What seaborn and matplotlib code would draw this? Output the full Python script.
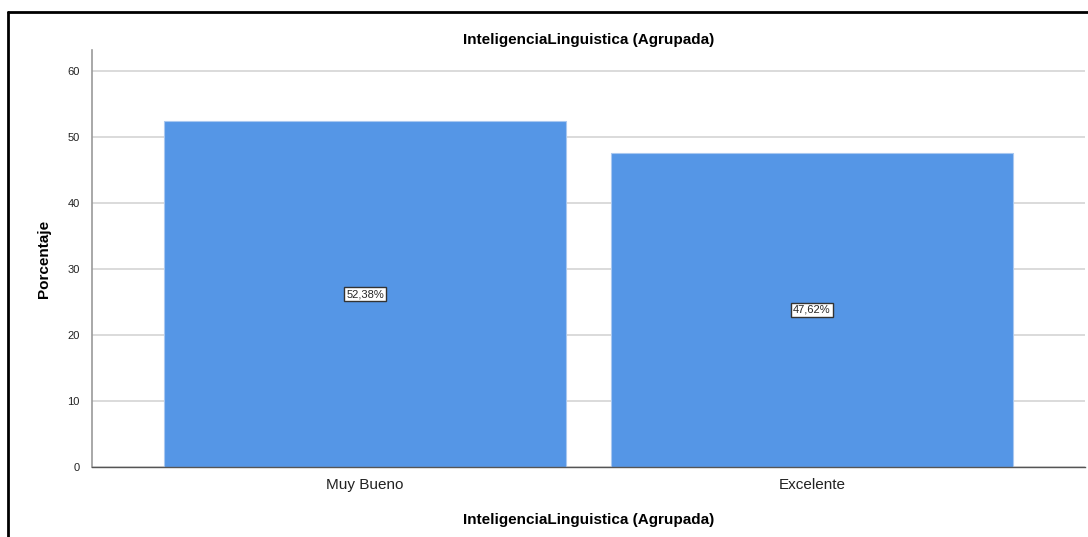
import pandas as pd
import matplotlib.pyplot as plt
import seaborn as sns
from matplotlib.lines import Line2D

# data
categorias = ["Muy Bueno", "Excelente"]
porcentaje = [52.38, 47.62]
etiquetas = ["52,38%", "47,62%"]

df = pd.DataFrame({"grupo": categorias, "pct": porcentaje})

sns.set_style("white")
plt.rcParams['font.family'] = ['Liberation Sans', 'DejaVu Sans']

fig = plt.figure(figsize=(10.88, 5.37), dpi=100)
ax = fig.add_axes([0.0846, 0.1304, 0.9124, 0.7765])

sns.barplot(x="grupo", y="pct", data=df, color="#5596e6", saturation=1,
            width=0.9, edgecolor="#a9c8f0", linewidth=0.8, ax=ax, zorder=2)

ax.set_ylim(0, 63.2)
ax.set_xlim(-0.611, 1.611)
ax.set_yticks([0, 10, 20, 30, 40, 50, 60])
ax.yaxis.grid(True, color="#d4d4d4", linewidth=1.2, zorder=0)
ax.set_axisbelow(True)
ax.tick_params(axis="y", labelsize=8, length=0, pad=9, labelcolor="#222222")
ax.tick_params(axis="x", labelsize=11, length=0, pad=8, labelcolor="#222222")

for s in ["top", "right"]:
    ax.spines[s].set_visible(False)
ax.spines["left"].set_color("#9a9a9a")
ax.spines["left"].set_linewidth(1.2)
ax.spines["bottom"].set_color("#555555")
ax.spines["bottom"].set_linewidth(1.0)

# value labels in the middle of each bar
for i, (v, t) in enumerate(zip(porcentaje, etiquetas)):
    ax.text(i, v / 2, t, ha="center", va="center", fontsize=8,
            bbox=dict(boxstyle="square,pad=0.2", facecolor="white",
                      edgecolor="#333333", linewidth=1))

ax.set_title("InteligenciaLinguistica (Agrupada)", fontsize=11,
             fontweight="bold", pad=4, color="black")
ax.set_xlabel("InteligenciaLinguistica (Agrupada)", fontsize=11,
              fontweight="bold", labelpad=15, color="black")
ax.set_ylabel("Porcentaje", fontsize=11, fontweight="bold", labelpad=12,
              color="black")

# outer frame (top and left edges visible in the screenshot)
fig.add_artist(Line2D([8 / 1088, 1.0], [1 - 12 / 537, 1 - 12 / 537],
                      color="black", linewidth=2, transform=fig.transFigure))
fig.add_artist(Line2D([8 / 1088, 8 / 1088], [0.0, 1 - 12 / 537],
                      color="black", linewidth=2, transform=fig.transFigure))

fig.savefig("out.png", dpi=100)
